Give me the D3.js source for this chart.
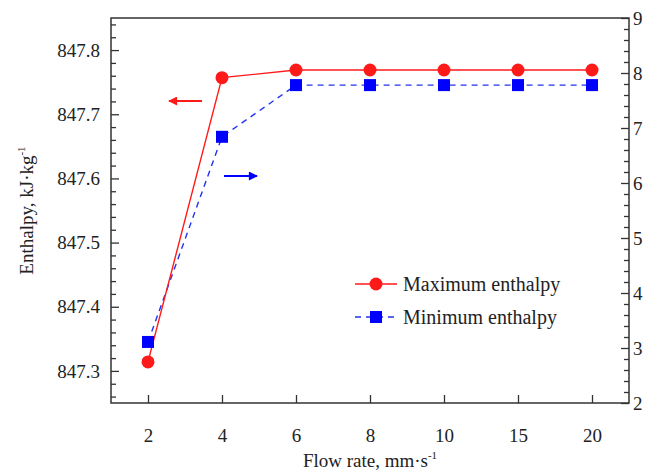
<!DOCTYPE html>
<html>
<head>
<meta charset="utf-8">
<script src="https://cdn.jsdelivr.net/npm/d3@7"></script>
<style>
  body { margin: 0; background: #fff; }
  svg text { font-family: "Liberation Serif", "Times New Roman", serif !important; }
</style>
</head>
<body>
<div id="chart"></div>
<script>
// Flow rate categories and the two series
const flowRates = ["2", "4", "6", "8", "10", "15", "20"];
const maxEnthalpy = [847.314, 847.757, 847.769, 847.769, 847.769, 847.769, 847.769]; // left axis
const minEnthalpy = [3.11, 6.84, 7.78, 7.78, 7.78, 7.78, 7.78]; // right axis
const leftTicks = [847.3, 847.4, 847.5, 847.6, 847.7, 847.8];
const rightTicks = [2, 3, 4, 5, 6, 7, 8, 9];

const width = 646, height = 471;
const margin = { top: 18, right: 17, bottom: 68, left: 111 };
const x0 = margin.left, x1 = width - margin.right;
const y0 = height - margin.bottom, y1 = margin.top;

const svg = d3.select("#chart").append("svg")
    .attr("width", width)
    .attr("height", height);

const x = d3.scalePoint().domain(flowRates).range([x0, x1]).padding(0.5);
const yL = d3.scaleLinear().domain([847.25, 847.85]).range([y0, y1]);
const yR = d3.scaleLinear().domain([2, 9]).range([y0, y1]);

const axisColor = "#333";

// Minor ticks first (inward)
const leftMinor = d3.range(847.26, 847.85, 0.02).filter(v => Math.abs((v * 100) % 10) > 0.5 && Math.abs((v * 100) % 10) < 9.5);
svg.append("g").attr("transform", `translate(${x0},0)`)
    .call(d3.axisLeft(yL).tickValues(leftMinor).tickSize(-5).tickFormat(""))
    .call(g => g.select(".domain").remove());
const rightMinor = d3.range(2.2, 9, 0.2).filter(v => Math.abs(v - Math.round(v)) > 0.05);
svg.append("g").attr("transform", `translate(${x1},0)`)
    .call(d3.axisRight(yR).tickValues(rightMinor).tickSize(-5).tickFormat(""))
    .call(g => g.select(".domain").remove());

// Major axes
const gx = svg.append("g").attr("transform", `translate(0,${y0})`)
    .call(d3.axisBottom(x).tickSize(-8).tickPadding(26));
const gl = svg.append("g").attr("transform", `translate(${x0},0)`)
    .call(d3.axisLeft(yL).tickValues(leftTicks).tickSize(-8).tickPadding(11).tickFormat(d3.format(".1f")));
const gr = svg.append("g").attr("transform", `translate(${x1},0)`)
    .call(d3.axisRight(yR).tickValues(rightTicks).tickSize(-8).tickPadding(4).tickFormat(d3.format("d")));

[gx, gl, gr].forEach(g => {
    g.select(".domain").remove();
    g.selectAll("text").attr("font-size", 19).attr("fill", "#222");
});
svg.selectAll(".tick line").attr("stroke", axisColor).attr("stroke-width", 1.3);

// Frame
svg.append("rect")
    .attr("x", x0).attr("y", y1)
    .attr("width", x1 - x0).attr("height", y0 - y1)
    .attr("fill", "none").attr("stroke", axisColor).attr("stroke-width", 1.5);

// Axis titles
const xt = svg.append("text")
    .attr("x", (x0 + x1) / 2).attr("y", 467)
    .attr("text-anchor", "middle").attr("font-size", 19).attr("fill", "#222");
xt.append("tspan").text("Flow rate, mm·s");
xt.append("tspan").attr("font-size", 11).attr("dy", -8).text("-1");

const yt = svg.append("text")
    .attr("transform", `translate(33,${(y0 + y1) / 2}) rotate(-90)`)
    .attr("text-anchor", "middle").attr("font-size", 19).attr("fill", "#222");
yt.append("tspan").text("Enthalpy, kJ·kg");
yt.append("tspan").attr("font-size", 11).attr("dy", -8).text("-1");

// Series
const red = "#ff1a1a", blue = "#0000ff";
const maxData = flowRates.map((f, i) => [x(f), yL(maxEnthalpy[i])]);
const minData = flowRates.map((f, i) => [x(f), yR(minEnthalpy[i])]);

svg.append("path")
    .attr("d", d3.line()(minData))
    .attr("fill", "none").attr("stroke", "#2233ee").attr("stroke-width", 1.4)
    .attr("stroke-dasharray", "6,5");
svg.append("path")
    .attr("d", d3.line()(maxData))
    .attr("fill", "none").attr("stroke", red).attr("stroke-width", 1.4);

svg.selectAll(".sq").data(minData).enter().append("rect")
    .attr("x", d => d[0] - 6).attr("y", d => d[1] - 6)
    .attr("width", 12).attr("height", 12)
    .attr("fill", blue);
svg.selectAll(".dot").data(maxData).enter().append("circle")
    .attr("cx", d => d[0]).attr("cy", d => d[1]).attr("r", 6.5)
    .attr("fill", red);

// Arrows showing which axis each series belongs to
const defs = svg.append("defs");
[["arrRed", red], ["arrBlue", blue]].forEach(([id, c]) => {
    defs.append("marker").attr("id", id)
        .attr("viewBox", "0 0 10 10").attr("refX", 9).attr("refY", 5)
        .attr("markerWidth", 13).attr("markerHeight", 9)
        .attr("markerUnits", "userSpaceOnUse").attr("orient", "auto")
        .append("path").attr("d", "M0,0 L10,5 L0,10 Z").attr("fill", c);
});
svg.append("line")
    .attr("x1", 202).attr("y1", 101).attr("x2", 169).attr("y2", 101)
    .attr("stroke", red).attr("stroke-width", 2).attr("marker-end", "url(#arrRed)");
svg.append("line")
    .attr("x1", 224).attr("y1", 176).attr("x2", 257).attr("y2", 176)
    .attr("stroke", blue).attr("stroke-width", 2).attr("marker-end", "url(#arrBlue)");

// Legend
const legend = svg.append("g").attr("transform", "translate(355,284)");
legend.append("line").attr("x1", 0).attr("x2", 42).attr("stroke", red).attr("stroke-width", 1.4);
legend.append("circle").attr("cx", 21).attr("r", 6.5).attr("fill", red);
legend.append("text").attr("x", 48).attr("dy", "0.35em").attr("font-size", 20).attr("fill", "#222")
    .text("Maximum enthalpy");
legend.append("line").attr("x1", 0).attr("x2", 42).attr("y1", 33).attr("y2", 33)
    .attr("stroke", "#2233ee").attr("stroke-width", 1.4).attr("stroke-dasharray", "6,5");
legend.append("rect").attr("x", 15).attr("y", 27).attr("width", 12).attr("height", 12).attr("fill", blue);
legend.append("text").attr("x", 48).attr("y", 33).attr("dy", "0.35em").attr("font-size", 20).attr("fill", "#222")
    .text("Minimum enthalpy");
</script>
</body>
</html>
